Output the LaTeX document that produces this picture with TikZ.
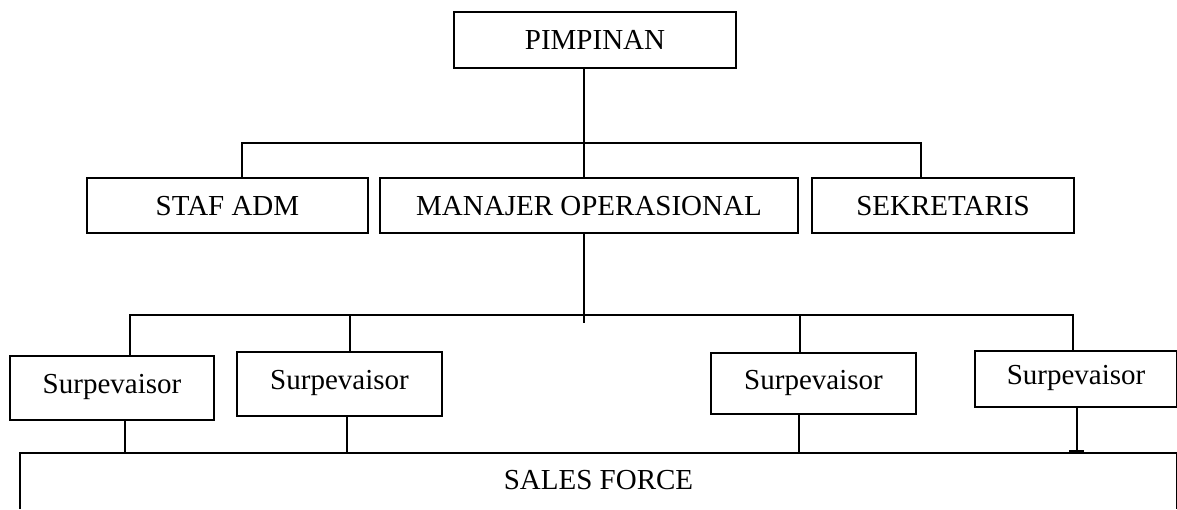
\documentclass[tikz,border=0pt]{standalone}
\usepackage{fontspec}
\setmainfont{Liberation Serif}
\begin{document}
\begin{tikzpicture}[x=1pt,y=-1pt,
  every path/.style={line width=1.6pt},
  box/.style={draw, line width=1.6pt, inner sep=0pt, text height=19pt, text depth=0pt,
    font=\fontsize{29}{34}\selectfont},
  supbox/.style={box, text depth=8pt, minimum width=205pt}]
\useasboundingbox (0,0) rectangle (1177,509);

% top level
\node[box, minimum width=282pt, minimum height=56pt] (pim) at (595,40) {PIMPINAN};

% second level
\node[box, minimum width=281pt, minimum height=55pt] (staf) at (227.5,205.5) {STAF ADM};
\node[box, minimum width=418pt, minimum height=55pt] (man) at (589,205.5) {MANAJER OPERASIONAL};
\node[box, minimum width=262pt, minimum height=55pt] (sek) at (943,205.5) {SEKRETARIS};

% supervisors
\node[supbox, minimum width=204pt, minimum height=64pt] (sup1) at (112,388) {Surpevaisor};
\node[supbox, minimum height=64pt] (sup2) at (339.5,384) {Surpevaisor};
\node[supbox, minimum height=61pt] (sup3) at (813.5,383.5) {Surpevaisor};
\node[supbox, minimum width=202pt, minimum height=56pt] (sup4) at (1076,379) {Surpevaisor};

% sales force (box runs past the lower edge)
\node[box, draw=none, anchor=north, minimum width=1155pt, inner ysep=17pt] (sales) at (598.5,453) {SALES FORCE};
\draw (sales.north west) ++(0,56) -- (sales.north west) -- (sales.north east) -- ++(0,56);

% first bus
\coordinate (b1) at (584,143);
\coordinate (ta) at (242,143);
\coordinate (tc) at (921,143);
\draw (ta |- staf.north) -- (ta) -- (tc) -- (tc |- sek.north);
\draw (pim.south -| b1) -- (man.north -| b1);

% second bus
\coordinate (b2) at (584,315);
\coordinate (b2end) at (584,323);
\coordinate (t1) at (130,315);
\coordinate (t2) at (350,315);
\coordinate (t3) at (800,315);
\coordinate (t4) at (1073,315);
\draw (man.south -| b2) -- (b2end);
\draw (t1 |- sup1.north) -- (t1) -- (t4) -- (t4 |- sup4.north);
\draw (t2) -- (t2 |- sup2.north);
\draw (t3) -- (t3 |- sup3.north);

% supervisors down to sales force
\coordinate (s1) at (125,453);
\coordinate (s2) at (347,453);
\coordinate (s3) at (799,453);
\coordinate (s4) at (1077,451);
\draw (s1 |- sup1.south) -- (s1);
\draw (s2 |- sup2.south) -- (s2);
\draw (s3 |- sup3.south) -- (s3);
\draw (s4 |- sup4.south) -- (s4);
\draw ([xshift=-8]s4) -- ([xshift=7]s4);
\end{tikzpicture}
\end{document}
